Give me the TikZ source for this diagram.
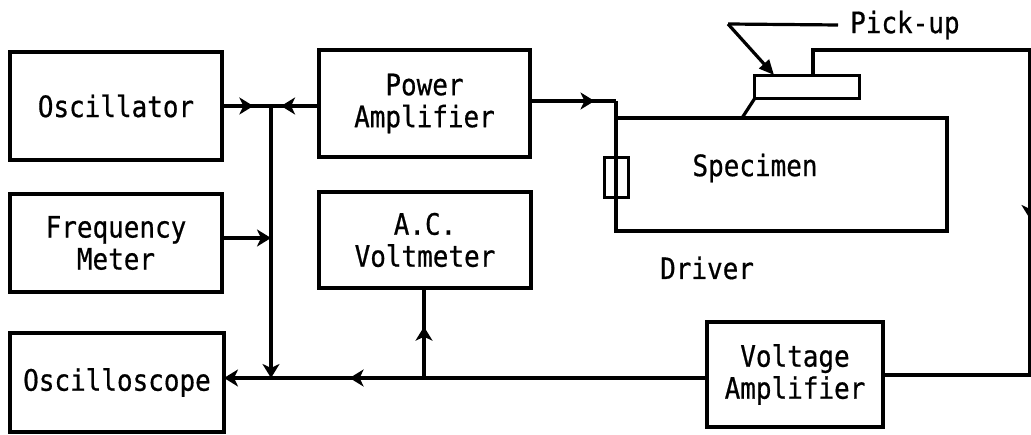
\documentclass[tikz,border=0pt]{standalone}
\usepackage{fontspec}
\newfontfamily\diagmono[FakeStretch=0.88,FakeBold=0.6]{DejaVu Sans Mono}
\usetikzlibrary{arrows.meta,decorations.markings}
\begin{document}
\begin{tikzpicture}[x=1pt,y=-1pt,
  txt/.style={font=\diagmono\fontsize{29.5}{32}\selectfont,align=center,inner sep=0pt},
  blk/.style={draw,line width=3.6pt,txt,minimum width=#1,outer sep=0pt},
  wire/.style={line width=3.2pt,line join=miter},
  tip/.style={-{Stealth[length=14pt,width=17pt,inset=4pt]}},
  midarr/.style={postaction={decorate},decoration={markings,mark=at position #1 with {\arrow{Stealth[length=14pt,width=17pt,inset=4pt]}}}}
]
\useasboundingbox (0,0) rectangle (1031,435);
% blocks
\node[blk=212pt,minimum height=108pt] (osc) at (116,106) {Oscillator};
\node[blk=212pt,minimum height=98pt] (freq) at (116,243) {Frequency\\Meter};
\node[blk=214pt,minimum height=99pt] (scope) at (117,382.5) {Oscilloscope};
\node[blk=211pt,minimum height=107pt] (pamp) at (424.5,103.5) {Power\\Amplifier};
\node[blk=212pt,minimum height=96pt] (vm) at (425,240) {A.C.\\Voltmeter};
\node[blk=176pt,minimum height=105pt] (va) at (795,374.5) {Voltage\\Amplifier};
% specimen, driver, pick-up
\node[draw,line width=3.6pt,minimum width=331pt,minimum height=113pt,inner sep=0pt,outer sep=0pt] (spec) at (781.5,174.5) {};
\node[txt] (spectxt) at (755,168) {Specimen};
\node[draw,line width=3pt,minimum width=24pt,minimum height=40pt,inner sep=0pt,outer sep=0pt] (drv) at (616,178) {};
\draw[wire] (drv.north) -- (drv.south);
\node[txt,anchor=west] (drvtxt) at (660,268) {Driver};
\node[draw,line width=3pt,minimum width=105pt,minimum height=23pt,inner sep=0pt,outer sep=0pt] (pu) at (806.5,87.5) {};
\node[txt,anchor=west] (putxt) at (850,25) {Pick-up};
\coordinate (pulbl) at (728,24);
\coordinate (putip) at (774,75);
\coordinate (leg) at (742,118);
\draw[wire] (putxt.west) ++(-12pt,0) -- (pulbl);
\draw[wire,-{Triangle[length=15pt,width=13pt]}] (pulbl) -- (putip);
\draw[wire] (755,98) -- (leg);
% junctions
\coordinate (jtop) at (271,106);
\coordinate (jfreq) at (271,238);
\coordinate (jbot) at (271,378);
\coordinate (jvm) at (424,378);
\coordinate (pcorner) at (616,101);
\coordinate (pupA) at (813,50);
\coordinate (rtop) at (1030,50);
\coordinate (rbot) at (1030,375);
% connectors
\draw[wire,midarr=0.64] (osc.east |- jtop) -- (jtop);
\draw[wire,midarr=0.79] (pamp.west |- jtop) -- (jtop);
\draw[wire,tip] (jfreq -| freq.east) -- (jfreq);
\draw[wire,tip] (jtop) -- (jbot);
\draw[wire,tip,midarr=0.74] (va.west |- jbot) -- (scope.east |- jbot);
\draw[wire,midarr=0.57] (jvm) -- (vm.south -| jvm);
\draw[wire,midarr=0.75] (pamp.east |- pcorner) -- (pcorner);
\draw[wire] (pcorner) -- (spec.north west);
\draw[wire] (pu.north -| pupA) -- (pupA) -- (rtop) -- (rbot) -- (va.east |- rbot);
\draw[wire,midarr=0.52] (rtop) -- (rbot);
\end{tikzpicture}
\end{document}
